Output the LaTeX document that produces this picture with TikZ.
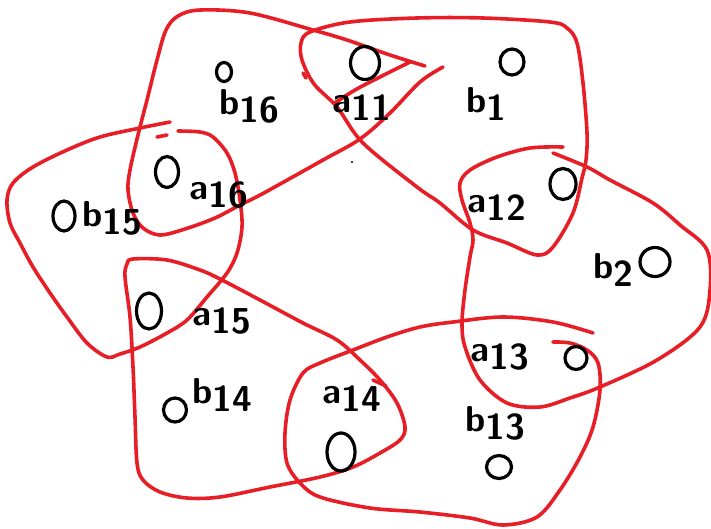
\documentclass[tikz,border=0pt]{standalone}
\usetikzlibrary{shapes.geometric}
\definecolor{hred}{RGB}{232,30,38}
\newcommand\sublab[2]{#1\raisebox{-0.22em}{#2}}
\tikzset{
  hedge/.style={draw=hred, line width=3.6pt, line cap=round, line join=round},
  vtx/.style={draw=black, ellipse, line width=3.2pt, inner sep=0pt},
  lbl/.style={font=\fontsize{36}{36}\sffamily\bfseries, inner sep=0pt, text=black},
}
\begin{document}
\begin{tikzpicture}[x=1pt,y=-1pt]
\useasboundingbox (0,0) rectangle (711,528);
\fill[white] (0,0) rectangle (711,528);

% hyperedge curves
% A: {b16, a11, a16}
\draw[hedge] plot[smooth, tension=0.55] coordinates {(425,66) (390,55) (347,40) (313,30) (250,13) (200,10) (178,16) (166,30) (157,60) (147,100) (138,135) (130,170) (128,190) (133,213) (143,228) (160,235) (185,229) (215,218) (240,205) (262,194) (323,160) (360,139) (390,113) (420,82) (443,67)};
\draw[hedge] plot[smooth, tension=0.55] coordinates {(410,62) (380,77) (355,90) (335,103)};
% B: {a11, b1, a12}
\draw[hedge] plot[smooth cycle, tension=0.55] coordinates {(302,60) (301,43) (310,32) (350,22) (417,18) (483,18) (550,22) (567,28) (577,43) (583,83) (587,133) (586,160) (582,178) (573,213) (553,247) (537,255) (507,243) (473,230) (440,203) (417,187) (363,143) (337,107) (314,84)};
\draw[hedge] (306,78) -- (303,73);
% C: {a12, b2, a13}
\draw[hedge] plot[smooth, tension=0.55] coordinates {(563,147) (530,148) (497,157) (470,170) (460,183) (462,200) (470,223) (473,240) (470,257) (465,290) (462,323) (465,347) (480,380) (507,403) (540,407) (570,398) (600,387) (657,360) (700,327) (710,290) (707,250) (680,225) (653,203) (610,180) (587,167) (553,153)};
% D: {a13, b13, a14}
\draw[hedge] plot[smooth, tension=0.55] coordinates {(593,333) (553,322) (503,317) (453,322) (420,327) (387,337) (353,350) (320,363) (303,373) (290,400) (285,433) (287,463) (300,483) (320,497) (370,508) (420,512) (470,518) (503,525) (537,517) (560,490) (580,457) (593,427) (600,390) (598,363) (587,350) (570,343) (553,342)};
% E: {a14, b14, a15}
\draw[hedge] plot[smooth cycle, tension=0.55] coordinates {(133,259) (167,260) (200,270) (220,279) (260,300) (303,323) (337,340) (360,360) (380,380) (397,403) (405,427) (400,440) (380,453) (353,467) (320,477) (270,487) (220,497) (187,498) (160,492) (143,480) (137,463) (135,417) (133,367) (130,317) (125,277) (127,264)};
\draw[hedge] (373,380) -- (386,386);
% F: {a15, b15, a16}
\draw[hedge] plot[smooth, tension=0.55] coordinates {(170,122) (140,128) (100,137) (67,150) (33,167) (13,183) (7,200) (10,223) (20,243) (33,267) (50,293) (67,317) (87,343) (107,357) (120,354) (140,347) (167,333) (187,320) (207,297) (227,273) (237,253) (242,227) (240,200) (235,173) (227,153) (213,137) (200,132) (178,131)};
\draw[hedge] (157,137) -- (167,135);

% vertices
\node[vtx, minimum width=15pt, minimum height=19pt] (vb16) at (224,72) {};
\node[vtx, minimum width=29pt, minimum height=33pt] (va11) at (365,63) {};
\node[vtx, minimum width=24pt, minimum height=26pt] (vb1) at (512,62) {};
\node[vtx, minimum width=26pt, minimum height=31pt] (va12) at (563,184) {};
\node[vtx, minimum width=30pt, minimum height=29pt] (vb2) at (655,262) {};
\node[vtx, minimum width=22pt, minimum height=23pt] (va13) at (576,358) {};
\node[vtx, minimum width=25pt, minimum height=23pt] (vb13) at (499,467) {};
\node[vtx, minimum width=28pt, minimum height=38pt] (va14) at (341,452) {};
\node[vtx, minimum width=23pt, minimum height=24pt] (vb14) at (175,410) {};
\node[vtx, minimum width=25pt, minimum height=36pt] (va15) at (149,311) {};
\node[vtx, minimum width=22pt, minimum height=30pt] (vb15) at (64,216) {};
\node[vtx, minimum width=23pt, minimum height=31pt] (va16) at (167,172) {};

% labels
\node[lbl] (la11) at (362,108) {\sublab{a}{11}};
\node[lbl] (lb16) at (249,106) {\sublab{b}{16}};
\node[lbl] (lb1) at (486,104) {\sublab{b}{1}};
\node[lbl] (la12) at (497,208) {\sublab{a}{12}};
\node[lbl] (lb2) at (613,270) {\sublab{b}{2}};
\node[lbl] (la13) at (500,357) {\sublab{a}{13}};
\node[lbl] (lb13) at (495,423) {\sublab{b}{13}};
\node[lbl] (la14) at (352,399) {\sublab{a}{14}};
\node[lbl] (lb14) at (222,395) {\sublab{b}{14}};
\node[lbl] (la15) at (222,321) {\sublab{a}{15}};
\node[lbl] (lb15) at (112,218) {\sublab{b}{15}};
\node[lbl] (la16) at (219,195) {\sublab{a}{16}};

\fill (352,162) circle (1.2pt);
\end{tikzpicture}
\end{document}
